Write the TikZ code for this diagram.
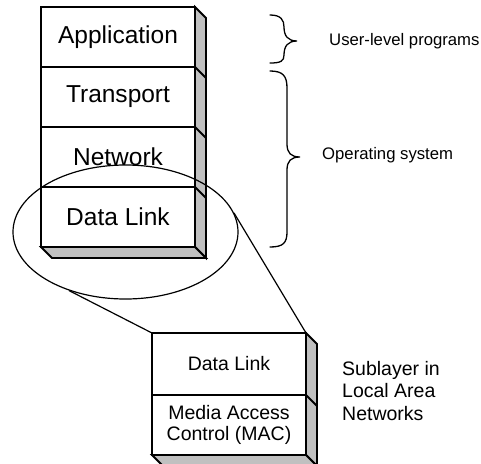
\documentclass[tikz,border=0pt]{standalone}
\usepackage{fontspec}
\setmainfont{Liberation Sans}
\usetikzlibrary{shapes.geometric}
\definecolor{slabgray}{RGB}{192,192,192}
\begin{document}
\begin{tikzpicture}[x=1pt,y=-1pt,
  layer/.style={draw, line width=1.8pt, fill=white, minimum width=154pt,
    minimum height=60pt, inner sep=0pt, outer sep=0pt,
    font=\fontsize{24.5}{28}\selectfont},
  sublayer/.style={layer, font=\fontsize{19.5}{21}\selectfont, align=center},
  slab/.style={draw, line width=1.8pt, fill=slabgray, line join=miter},
  zoomline/.style={line width=1.2pt},
  bracket/.style={line width=1.3pt, line cap=round},
  note/.style={inner sep=0pt, font=\fontsize{16.7}{20}\selectfont},
  sidenote/.style={inner sep=0pt, align=left, font=\fontsize{19.5}{22.5}\selectfont},
]
\useasboundingbox (0,0) rectangle (481,463);

% protocol stack with its 3-D slab
\node[layer] (app) at (118,37)  {Application};
\node[layer] (tr)  at (118,97)  {Transport};
\node[layer] (nw)  at (118,157) {Network};
\node[layer] (dl)  at (118,217) {Data Link};
\draw[slab] (app.north east) -- ++(11,11) -- ([shift={(11,11)}]dl.south east)
  -- (dl.south east) -- cycle;
\draw[slab] (dl.south west) -- (dl.south east) -- ++(11,11)
  -- ([shift={(11,11)}]dl.south west) -- cycle;
\foreach \n in {app,tr,nw} \draw[line width=1.8pt] (\n.south east) -- ++(11,11);

% LAN sublayers
\node[sublayer, minimum height=62pt] (sub) at (229,364) {Data Link};
\node[sublayer] (mac) at (229,425) {Media Access\\Control (MAC)};
\draw[slab] (sub.north east) -- ++(11,11) -- ([shift={(11,11)}]mac.south east)
  -- (mac.south east) -- cycle;
\draw[slab] (mac.south west) -- (mac.south east) -- ++(11,11)
  -- ([shift={(11,11)}]mac.south west) -- cycle;
\draw[line width=1.8pt] (sub.south east) -- ++(11,11);

% magnifying ellipse round the data link layer
\node[ellipse, draw, zoomline, minimum width=225pt, minimum height=134pt,
  inner sep=0pt] (lens) at (125.5,232) {};
\draw[zoomline] (lens.226) -- (sub.north west);
\draw[zoomline] (lens.10) -- (sub.north east);

% braces
\draw[bracket] (270,15) .. controls (281,15) and (284,20) .. (284,27)
  .. controls (284,36) and (288,41) .. (297,41)
  .. controls (288,41) and (284,46) .. (284,55)
  .. controls (284,61) and (281,63) .. (270,63);
\draw[bracket] (270,71) .. controls (283,71) and (287,76) .. (287,88)
  -- (287,144) .. controls (287,153) and (291,157) .. (300,157)
  .. controls (291,157) and (287,161) .. (287,170)
  -- (287,232) .. controls (287,243) and (283,247) .. (270,247);

\node[note, anchor=west] (ulp) at (329,41) {User-level programs};
\node[note, anchor=west] (os) at (322,155) {Operating system};
\node[sidenote, anchor=north west] (lan) at (342,361)
  {Sublayer in\\Local Area\\Networks};
\end{tikzpicture}
\end{document}
